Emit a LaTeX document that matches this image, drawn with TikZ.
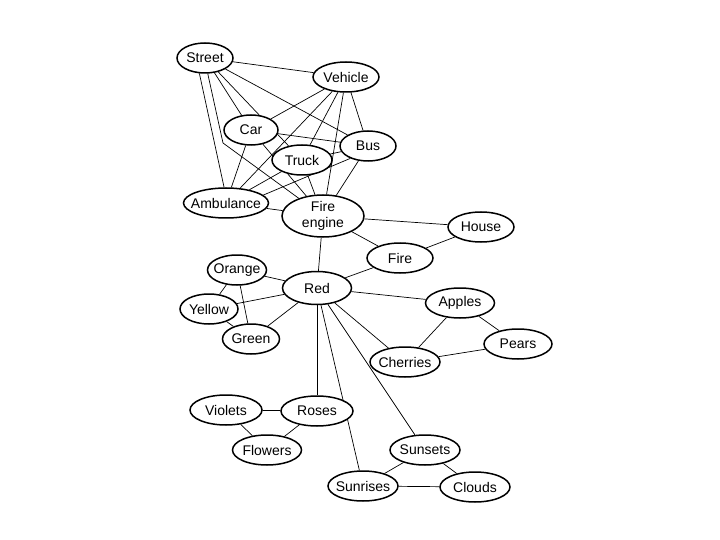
\documentclass[tikz,border=0pt]{standalone}
\usepackage{fontspec}
\setmainfont{Liberation Sans}
\usetikzlibrary{shapes.geometric,backgrounds}

\begin{document}
\begin{tikzpicture}[
  x=1pt, y=-1pt,
  font=\fontsize{14}{16}\selectfont,
  concept/.style={draw, fill=white, ellipse, line width=1.5pt, inner xsep=-6pt, inner ysep=0pt,
                  minimum width=66pt, minimum height=30pt, align=center},
  edge/.style   ={line width=0.7pt},
]
\useasboundingbox (0,0) rectangle (720,540);

% Vehicle cluster
\node[concept, minimum width=56pt] (street)    at (205, 58)  {Street};
\node[concept] (vehicle)   at (346, 77)  {Vehicle};
\node[concept, minimum width=54pt] (car)       at (251,130)  {Car};
\node[concept, minimum width=60pt] (truck)     at (302,160)  {Truck};
\node[concept, minimum width=56pt] (bus)       at (368,146)  {Bus};
\node[concept, minimum width=85pt] (ambulance) at (226,203)  {Ambulance};
\node[concept, minimum width=82pt, minimum height=42pt] (fireeng) at (323,216) {Fire\\engine};

% Fire and colours
\node[concept] (house)     at (481,227)  {House};
\node[concept] (fire)      at (400,258)  {Fire};
\node[concept, minimum width=59pt] (orange) at (237,270) {Orange};
\node[concept, minimum width=69pt, minimum height=33pt] (red) at (317,288) {Red};
\node[concept, minimum width=58pt] (yellow) at (209,309) {Yellow};
\node[concept, minimum width=57pt] (green)  at (251,339) {Green};

% Fruit
\node[concept, minimum width=69pt] (apples)   at (460,303) {Apples};
\node[concept, minimum width=68pt] (pears)    at (518,344) {Pears};
\node[concept, minimum width=70pt] (cherries) at (405,362) {Cherries};

% Flowers and sky
\node[concept, minimum width=72pt] (violets)  at (226,410) {Violets};
\node[concept, minimum width=72pt] (roses)    at (317,411) {Roses};
\node[concept, minimum width=69pt] (flowers)  at (267,450) {Flowers};
\node[concept, minimum width=70pt] (sunsets)  at (425,450) {Sunsets};
\node[concept, minimum width=70pt] (sunrises) at (363,486) {Sunrises};
\node[concept, minimum width=70pt] (clouds)   at (475,487) {Clouds};

\begin{scope}[on background layer]
% Street links (one bent round Car)
\coordinate (bend) at (223,143);
\draw[edge] (street) -- (vehicle);
\draw[edge] (street) -- (car);
\draw[edge] (street) -- (truck);
\draw[edge] (street) -- (bus);
\draw[edge] (street.250) -- (ambulance.97);
\draw[edge] (street.280) -- (bend) -- (fireeng);

% Vehicle links
\draw[edge] (vehicle) -- (car);
\draw[edge] (vehicle) -- (truck);
\draw[edge] (vehicle) -- (bus);
\draw[edge] (vehicle) -- (ambulance);
\draw[edge] (vehicle) -- (fireeng);

% Car, Truck, Bus, Ambulance links
\draw[edge] (car) -- (bus);
\draw[edge] (car) -- (ambulance);
\draw[edge] (car) -- (fireeng);
\draw[edge] (truck) -- (bus);
\draw[edge] (truck) -- (ambulance);
\draw[edge] (truck) -- (fireeng);
\draw[edge] (bus.215) -- (ambulance.12);
\draw[edge] (bus) -- (fireeng);
\draw[edge] (ambulance) -- (fireeng);

% Fire engine, Fire, House
\draw[edge] (fireeng) -- (house);
\draw[edge] (fireeng) -- (fire);
\draw[edge] (fireeng) -- (red);
\draw[edge] (fire) -- (house);
\draw[edge] (fire) -- (red);

% Red and the colours
\draw[edge] (red) -- (orange);
\draw[edge] (red) -- (yellow);
\draw[edge] (red) -- (green);
\draw[edge] (orange) -- (yellow);
\draw[edge] (orange) -- (green);
\draw[edge] (yellow) -- (green);

% Red to fruit, flowers and sky
\draw[edge] (red) -- (apples);
\draw[edge] (red) -- (cherries);
\draw[edge] (red) -- (roses);
\draw[edge] (red) -- (sunsets);
\draw[edge] (red) -- (sunrises);

% Fruit
\draw[edge] (apples) -- (pears);
\draw[edge] (apples) -- (cherries);
\draw[edge] (cherries) -- (pears);

% Flowers
\draw[edge] (violets) -- (roses);
\draw[edge] (violets) -- (flowers);
\draw[edge] (roses) -- (flowers);

% Sky
\draw[edge] (sunsets) -- (sunrises);
\draw[edge] (sunsets) -- (clouds);
\draw[edge] (sunrises) -- (clouds);
\end{scope}
\end{tikzpicture}
\end{document}
